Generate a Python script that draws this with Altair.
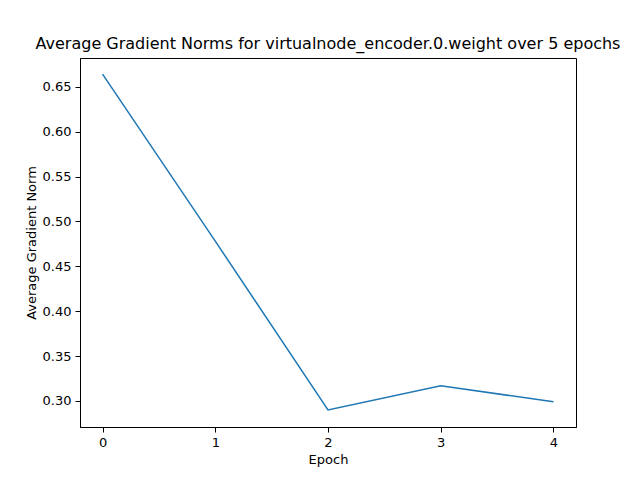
import pandas as pd
import altair as alt

epochs = [0, 1, 2, 3, 4]
grad_norms = [0.664, 0.478, 0.290, 0.317, 0.299]

df = pd.DataFrame({'epoch': epochs, 'norm': grad_norms})

chart = alt.Chart(df).mark_line(color='#1f77b4', strokeWidth=1.5, clip=True).encode(
    x=alt.X('epoch:Q', title='Epoch',
            scale=alt.Scale(domain=[-0.2, 4.2], nice=False, zero=False),
            axis=alt.Axis(values=epochs, format='d', grid=False, tickColor='black',
                          domainColor='black', labelColor='black', titleColor='black')),
    y=alt.Y('norm:Q', title='Average Gradient Norm',
            scale=alt.Scale(domain=[0.271, 0.682], nice=False, zero=False),
            axis=alt.Axis(values=[0.30, 0.35, 0.40, 0.45, 0.50, 0.55, 0.60, 0.65], format='.2f',
                          grid=False, tickColor='black', domainColor='black',
                          labelColor='black', titleColor='black'))
).properties(
    title='Average Gradient Norms for virtualnode_encoder.0.weight over 5 epochs',
    width=496,
    height=369,
    autosize=alt.AutoSizeParams(type='none'),
    padding={'left': 72, 'top': 50, 'right': 56, 'bottom': 45}
).configure_view(
    stroke='black', strokeWidth=1
).configure_axis(
    labelFont='DejaVu Sans', titleFont='DejaVu Sans',
    labelFontSize=13, titleFontSize=13, titleFontWeight='normal',
    tickSize=5, labelPadding=4
).configure_title(
    font='DejaVu Sans', fontSize=16, fontWeight='normal', color='black', offset=6,
    anchor='middle'
)

chart.save("out.html", embed_options={"renderer": "svg", "actions": False})
